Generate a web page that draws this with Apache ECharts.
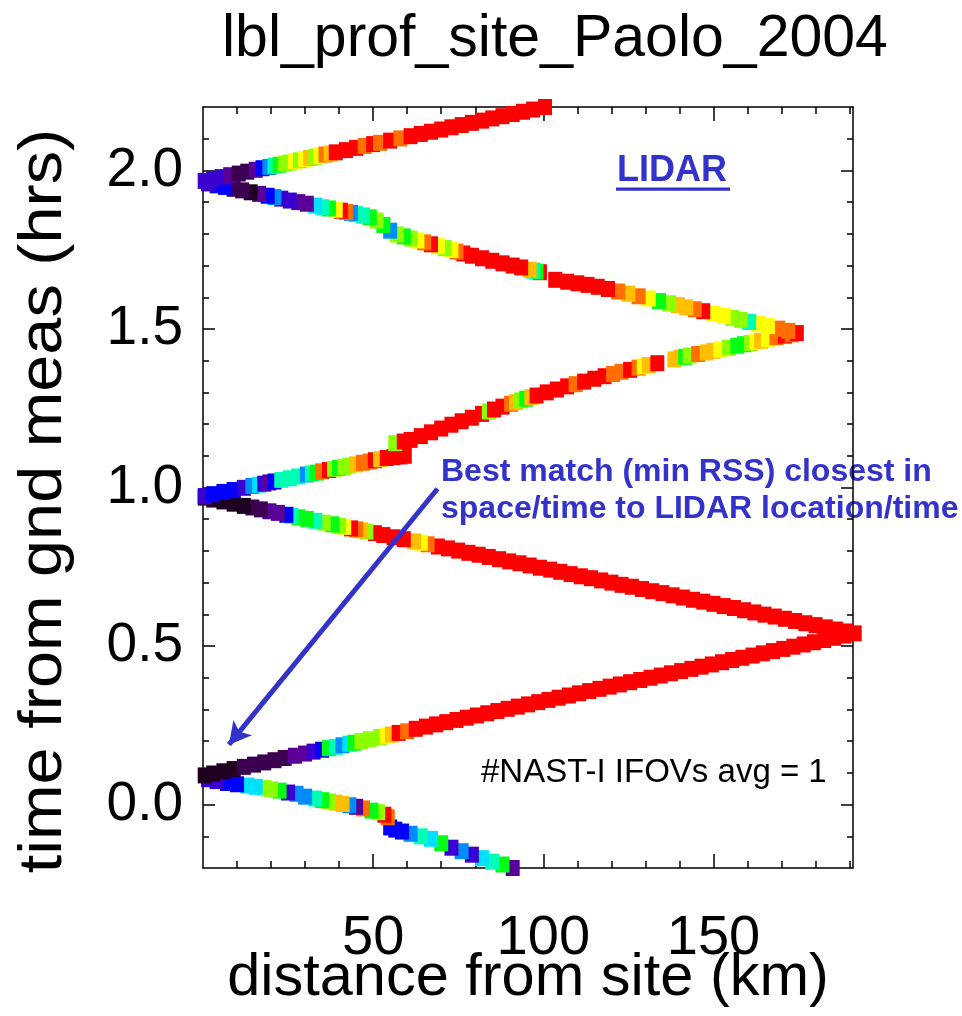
<!DOCTYPE html>
<html>
<head>
<meta charset="utf-8">
<script src="https://cdn.jsdelivr.net/npm/echarts@6/dist/echarts.min.js"></script>
<style>
  html, body { margin: 0; padding: 0; background: #ffffff; }
  #chart { width: 962px; height: 1016px; }
</style>
</head>
<body>
<div id="chart"></div>
<script>
// Colour levels of the RSS ramp (black -> purple -> blue -> cyan -> green -> yellow -> red)
const levelColors = ['#200020', '#3c0050', '#5a0096', '#3a00d0', '#0000ff', '#008cff', '#00e1ff',
                     '#00ffb4', '#00ff14', '#8cff00', '#ffff00', '#ffbe00', '#ff6e00', '#ff0000'];

// Flight legs in time order: distance from site (km), time from ground measurement (hrs), RSS level
const leg1Dist  = [91, 88, 85, 82, 79, 76, 73, 70, 67, 64, 61, 58.5, 56.5, 55, 54.3, 53.3, 51.5, 49.5, 47, 45,
                   43, 41, 39, 37, 35, 33, 30, 27.5, 25, 22.5, 20, 18, 15.5, 13, 10, 7, 4, 1.5];
const leg1Time  = [-0.200, -0.189, -0.180, -0.169, -0.158, -0.147, -0.136, -0.122, -0.108, -0.100,
                   -0.092, -0.085, -0.079, -0.072, -0.040, -0.032, -0.024, -0.019, -0.012, -0.007,
                   -0.002, 0.002, 0.006, 0.010, 0.014, 0.019, 0.025, 0.034, 0.038, 0.044,
                   0.048, 0.052, 0.056, 0.060, 0.064, 0.068, 0.074, 0.080];
const leg1Level = [2, 8, 7, 6, 3, 5, 3, 8, 6, 7, 5, 4, 4, 4, 12, 13, 9, 8, 12, 2,
                   5, 11, 11, 9, 8, 7, 5, 5, 3, 8, 9, 9, 6, 6, 4, 4, 3, 3];

const leg2Dist  = [0.5, 3, 6, 9, 12, 15, 18, 21, 24, 27, 30, 32.5, 35, 37, 39, 41, 43, 44.5, 46.5, 49,
                   52, 54, 55.5, 57.5, 60, 62.5, 65.5, 68.5, 71.5, 74.5, 77.5, 80.5, 83.5, 86.5, 89.5,
                   92.5, 95.5, 98.5, 101.5, 104.5, 107.5, 110.5, 113.5, 116.5, 119.5, 122.5, 125.5, 128.5,
                   131.5, 134.5, 137.5, 140.5, 143.5, 146.5, 149.5, 152.5, 155.5, 158.5, 161.5, 164.5,
                   167.5, 170.5, 173.5, 176.5, 179.5, 182.5, 185.5, 188.5, 191.5];
const leg2Time  = [0.092, 0.098, 0.105, 0.112, 0.119, 0.126, 0.133, 0.140, 0.147, 0.154,
                   0.161, 0.167, 0.173, 0.178, 0.182, 0.187, 0.192, 0.195, 0.200, 0.206,
                   0.213, 0.217, 0.221, 0.226, 0.231,
                   0.239, 0.246, 0.253, 0.260, 0.267, 0.274, 0.281, 0.288, 0.295, 0.302,
                   0.309, 0.316, 0.323, 0.330, 0.337, 0.344, 0.351, 0.358, 0.365, 0.372,
                   0.379, 0.386, 0.393, 0.400, 0.407, 0.414, 0.421, 0.428, 0.435, 0.442,
                   0.449, 0.456, 0.463, 0.470, 0.477, 0.484, 0.491, 0.498, 0.505, 0.512,
                   0.519, 0.526, 0.533, 0.540];
const leg2Level = [0, 0, 0, 0, 1, 1, 1, 1, 1, 2, 2, 3, 4, 8, 7, 5, 6, 8, 9, 9,
                   9, 10, 11, 13, 12,
                   13, 13, 13, 13, 13, 13, 13, 13, 13, 13, 13, 13, 13, 13, 13, 13, 13, 13, 13, 13,
                   13, 13, 13, 13, 13, 13, 13, 13, 13, 13, 13, 13, 13, 13, 13, 13, 13, 13, 13, 13,
                   13, 13, 13, 13];

const leg3Dist  = [189, 186, 183, 180, 177, 174, 171, 168, 165, 162, 159, 156, 153, 150, 147, 144, 141, 138,
                   135, 132, 129, 126, 123, 120, 117, 114, 111, 108, 105, 102, 99, 96, 93, 90, 87, 84, 81,
                   78, 75, 72, 69, 66, 64, 62, 59, 56, 53, 50.5, 48, 46.5, 45, 43.5, 41.5, 40, 38, 35.5,
                   33, 30.5, 28, 26, 24.5, 22, 19.5, 17, 14.5, 12, 9, 6, 3, 0.5];
const leg3Time  = [0.546, 0.552, 0.559, 0.566, 0.572, 0.579, 0.586, 0.593, 0.599, 0.606,
                   0.613, 0.620, 0.626, 0.633, 0.640, 0.646, 0.653, 0.660, 0.667, 0.673,
                   0.680, 0.687, 0.693, 0.700, 0.707, 0.714, 0.720, 0.727, 0.734, 0.741,
                   0.747, 0.754, 0.761, 0.767, 0.774, 0.781, 0.788, 0.794, 0.801, 0.808,
                   0.814, 0.821, 0.826, 0.830, 0.837, 0.843, 0.850, 0.856, 0.861, 0.865,
                   0.868, 0.871, 0.876, 0.879, 0.884, 0.889, 0.895, 0.901, 0.906, 0.911,
                   0.914, 0.920, 0.925, 0.931, 0.937, 0.942, 0.949, 0.956, 0.962, 0.968];
const leg3Level = [13, 13, 13, 13, 13, 13, 13, 13, 13, 13, 13, 13, 13, 13, 13, 13, 13, 13, 13, 13,
                   13, 13, 13, 13, 13, 13, 13, 13, 13, 13, 13, 13, 13, 13, 13, 13, 13, 13, 13, 13,
                   13, 12, 10, 11, 13, 13, 13, 13, 9, 11, 12, 13, 10, 9, 8, 9, 7, 8, 8, 7,
                   4, 2, 2, 1, 1, 0, 0, 0, 0, 1];

const leg4Dist  = [0.5, 3, 6, 9, 12, 14.5, 16.5, 18, 19.5, 21, 23, 25.5, 28, 30.5, 32, 33.5, 35, 37, 38.5, 40,
                   41.5, 43, 45, 47, 49, 50.5, 52, 54, 56, 58, 59.3,
                   56.5, 59, 61, 64, 67, 70, 73, 76, 79, 82, 84, 85.5, 88, 90.5, 92, 93.5, 95, 96.5, 98, 101,
                   104, 107, 109.5, 112, 115, 118, 120.5, 123, 125.5, 128, 129.5, 131, 133.5, 138.5, 140.3,
                   141.7, 143, 145.5, 148, 150, 152, 154.5, 157, 159, 161, 162.5, 164, 166, 168.5, 171,
                   173, 174.5];
const leg4Time  = [0.973, 0.979, 0.986, 0.992, 0.999, 1.005, 1.009, 1.012, 1.016, 1.019,
                   1.024, 1.029, 1.035, 1.041, 1.044, 1.047, 1.051, 1.055, 1.059, 1.062,
                   1.065, 1.069, 1.073, 1.078, 1.082, 1.086, 1.089, 1.093, 1.096, 1.098, 1.100,
                   1.140, 1.145, 1.150, 1.162, 1.174, 1.186, 1.198, 1.209, 1.220, 1.232,
                   1.240, 1.246, 1.255, 1.264, 1.269, 1.275, 1.280, 1.285, 1.290, 1.300,
                   1.309, 1.319, 1.326, 1.334, 1.343, 1.351, 1.358, 1.365, 1.371, 1.378,
                   1.382, 1.386, 1.392, 1.404, 1.409, 1.412, 1.416, 1.421, 1.426, 1.431,
                   1.435, 1.441, 1.447, 1.452, 1.456, 1.460, 1.463, 1.468, 1.474, 1.479,
                   1.483, 1.487];
const leg4Level = [3, 4, 4, 4, 3, 5, 6, 3, 2, 4, 7, 7, 7, 5, 7, 8, 12, 13, 9, 8,
                   9, 9, 11, 12, 12, 13, 11, 13, 13, 13, 13,
                   9, 13, 13, 13, 13, 13, 13, 13, 13, 13, 9, 13, 13, 12, 11, 9, 8, 11, 13, 13,
                   13, 13, 12, 13, 13, 13, 12, 12, 13, 12, 10, 11, 13, 11, 11, 8, 9, 12, 11, 11,
                   10, 9, 8, 8, 9, 10, 11, 10, 12, 13, 12, 13];

const leg5Dist  = [172, 169, 166, 163, 160.5, 158, 155.5, 153, 150, 147, 144.5, 142, 139.5, 137, 134, 131,
                   128, 125, 122, 119, 116, 113, 110, 107, 103.5, 99, 98, 97, 96, 93.5, 91, 88, 85, 82, 79,
                   76.5, 74.5, 73, 71, 69, 67, 65, 63, 61, 59, 57, 55, 53, 51, 49, 47, 45, 43.5, 42, 40.5,
                   39, 37, 35, 33, 30.5, 28, 25.5, 23, 21, 19, 16.5, 14, 11.5, 9, 6.5, 4, 1.5];
const leg5Time  = [1.494, 1.501, 1.509, 1.516, 1.522, 1.529, 1.535, 1.541, 1.548, 1.556,
                   1.562, 1.568, 1.575, 1.581, 1.588, 1.596, 1.603, 1.611, 1.618, 1.626,
                   1.633, 1.639, 1.644, 1.649, 1.655, 1.679, 1.681, 1.684, 1.687, 1.694,
                   1.700, 1.707, 1.715, 1.723, 1.731, 1.738, 1.744, 1.749, 1.755, 1.761,
                   1.767, 1.773, 1.779, 1.785, 1.792, 1.798, 1.810, 1.828, 1.842, 1.852,
                   1.858, 1.862, 1.866, 1.869, 1.873, 1.876, 1.880, 1.884, 1.889, 1.895,
                   1.900, 1.905, 1.911, 1.916, 1.920, 1.926, 1.931, 1.937, 1.942, 1.948,
                   1.953, 1.959];
const leg5Level = [12, 12, 10, 10, 7, 9, 9, 10, 10, 13, 12, 11, 11, 9, 8, 10, 12, 11, 12, 13,
                   13, 13, 13, 13, 13, 13, 8, 7, 11, 13, 13, 13, 13, 13, 13, 13, 12, 10, 9, 10,
                   13, 12, 10, 9, 8, 9, 5, 8, 9, 8, 7, 7, 5, 12, 13, 10, 8, 7, 6, 2,
                   2, 3, 3, 5, 4, 2, 0, 1, 1, 4, 4, 3];

const leg6Dist  = [0.5, 3, 5.5, 8, 10.5, 13, 15.5, 17.5, 19.5, 21, 22.5, 24, 25.5, 27, 28.5, 30, 31.5, 33,
                   34.5, 36, 37.5, 39, 42, 45, 47.5, 50, 52, 55, 58, 61, 64, 67, 70, 73, 76, 79, 82, 85,
                   88, 91, 94, 97, 100.5];
const leg6Time  = [1.967, 1.973, 1.979, 1.985, 1.990, 1.996, 2.002, 2.007, 2.011, 2.015,
                   2.018, 2.022, 2.025, 2.029, 2.032, 2.036, 2.039, 2.043, 2.046, 2.050,
                   2.053, 2.057, 2.064, 2.071, 2.077, 2.083, 2.087, 2.094, 2.101, 2.108,
                   2.115, 2.122, 2.129, 2.136, 2.143, 2.150, 2.157, 2.164, 2.171, 2.178,
                   2.185, 2.192, 2.200];
const leg6Level = [3, 3, 3, 2, 1, 1, 2, 4, 5, 7, 8, 9, 9, 10, 9, 10, 11, 9, 10, 12,
                   11, 13, 13, 13, 12, 13, 12, 13, 12, 13, 13, 13, 13, 13, 13, 13, 13, 13, 13, 13,
                   13, 13, 13];

// Axis ranges and tick positions
const xRange = [0, 191];
const yRange = [-0.2, 2.2];
const xMajorTicks = [50, 100, 150];
const xMinorTicks = [10, 20, 30, 40, 50, 60, 70, 80, 90, 100, 110, 120, 130, 140, 150, 160, 170, 180, 190];
const yMajorTicks = [0, 0.5, 1.0, 1.5, 2.0];
const yMinorTicks = [-0.1, 0.1, 0.2, 0.3, 0.4, 0.6, 0.7, 0.8, 0.9, 1.1, 1.2, 1.3, 1.4,
                     1.6, 1.7, 1.8, 1.9, 2.1];

// Annotation arrow: from the label down to the best-match point (km, hrs)
const arrowFrom = [68.9, 0.996];
const arrowTo   = [7.6, 0.189];

const legs = [
  [leg1Dist, leg1Time, leg1Level], [leg2Dist, leg2Time, leg2Level], [leg3Dist, leg3Time, leg3Level],
  [leg4Dist, leg4Time, leg4Level], [leg5Dist, leg5Time, leg5Level], [leg6Dist, leg6Time, leg6Level]
];

const FONT = "'Liberation Sans', Arial, Helvetica, sans-serif";
const BLUE = '#3333cc';
const tickStyle = { color: '#000', width: 1.5 };

function xAxisDef(position, ticks, len, withLine, withLabels) {
  return {
    type: 'value', gridIndex: 0, position: position, min: xRange[0], max: xRange[1],
    axisLine: { show: withLine, onZero: false, lineStyle: { color: '#000', width: 1.5 } },
    axisTick: { show: true, inside: true, length: len, customValues: ticks, lineStyle: tickStyle },
    axisLabel: withLabels
      ? { show: true, customValues: xMajorTicks, fontFamily: FONT, fontSize: 56, color: '#000', margin: 43 }
      : { show: false },
    splitLine: { show: false }
  };
}

function yAxisDef(position, ticks, len, withLine, withLabels) {
  return {
    type: 'value', gridIndex: 0, position: position, min: yRange[0], max: yRange[1],
    axisLine: { show: withLine, onZero: false, lineStyle: { color: '#000', width: 1.5 } },
    axisTick: { show: true, inside: true, length: len, customValues: ticks, lineStyle: tickStyle },
    axisLabel: withLabels
      ? { show: true, customValues: yMajorTicks, fontFamily: FONT, fontSize: 55, color: '#000', margin: 20,
          formatter: v => v.toFixed(1) }
      : { show: false },
    splitLine: { show: false }
  };
}

const trackSeries = legs.map(([dist, time, level]) => ({
  type: 'scatter',
  xAxisIndex: 0, yAxisIndex: 0,
  symbol: 'rect', symbolSize: [14, 16],
  clip: false, silent: true, animation: false,
  itemStyle: { opacity: 1 },
  data: dist.map((d, i) => [d, time[i], level[i]])
}));

const chart = echarts.init(document.getElementById('chart'), null, { renderer: 'canvas' });
chart.setOption({
  backgroundColor: '#ffffff',
  animation: false,
  grid: { left: 203, top: 107, right: 109, bottom: 148, containLabel: false, outerBoundsMode: 'none' },
  xAxis: [
    xAxisDef('bottom', xMinorTicks, 7, true, true),
    xAxisDef('bottom', xMajorTicks, 14, false, false),
    xAxisDef('top', xMinorTicks, 7, true, false),
    xAxisDef('top', xMajorTicks, 14, false, false)
  ],
  yAxis: [
    yAxisDef('left', yMinorTicks, 6, true, true),
    yAxisDef('left', yMajorTicks, 12, false, false),
    yAxisDef('right', yMinorTicks, 6, true, false),
    yAxisDef('right', yMajorTicks, 12, false, false)
  ],
  visualMap: {
    type: 'continuous', show: false, dimension: 2, min: 0, max: 13,
    seriesIndex: [0, 1, 2, 3, 4, 5],
    inRange: { color: levelColors }
  },
  series: trackSeries.concat([{
    type: 'line', xAxisIndex: 0, yAxisIndex: 0, data: [], silent: true,
    markLine: {
      silent: true, animation: false,
      symbol: ['none', 'arrow'], symbolSize: [18, 22],
      lineStyle: { color: BLUE, width: 5, type: 'solid' },
      label: { show: false },
      data: [[{ coord: arrowFrom }, { coord: arrowTo }]]
    }
  }]),
  graphic: [
    { type: 'text', x: 222, y: 40, silent: true,
      style: { text: 'lbl_prof_site_Paolo_2004', font: `59px ${FONT}`, fill: '#000',
               align: 'left', verticalAlign: 'middle' } },
    { type: 'text', x: 528, y: 979, silent: true,
      style: { text: 'distance from site (km)', font: `59.5px ${FONT}`, fill: '#000',
               align: 'center', verticalAlign: 'middle' } },
    { type: 'text', x: 44, y: 501, rotation: Math.PI / 2, scaleX: 1.075, silent: true,
      style: { text: 'time from gnd meas (hrs)', font: `62px ${FONT}`, fill: '#000',
               align: 'center', verticalAlign: 'middle' } },
    { type: 'text', x: 617, y: 171, silent: true,
      style: { text: 'LIDAR', font: `bold 36px ${FONT}`, fill: BLUE, align: 'left', verticalAlign: 'middle' } },
    { type: 'rect', silent: true, shape: { x: 616, y: 187.5, width: 114, height: 3.3 }, style: { fill: BLUE } },
    { type: 'text', x: 441, y: 472, silent: true,
      style: { text: 'Best match (min RSS) closest in', font: `bold 32px ${FONT}`, fill: BLUE,
               align: 'left', verticalAlign: 'middle' } },
    { type: 'text', x: 441, y: 509, silent: true,
      style: { text: 'space/time to LIDAR location/time', font: `bold 32px ${FONT}`, fill: BLUE,
               align: 'left', verticalAlign: 'middle' } },
    { type: 'text', x: 481, y: 773, silent: true,
      style: { text: '#NAST-I IFOVs avg = 1', font: `33px ${FONT}`, fill: '#000',
               align: 'left', verticalAlign: 'middle' } }
  ]
});
</script>
</body>
</html>
